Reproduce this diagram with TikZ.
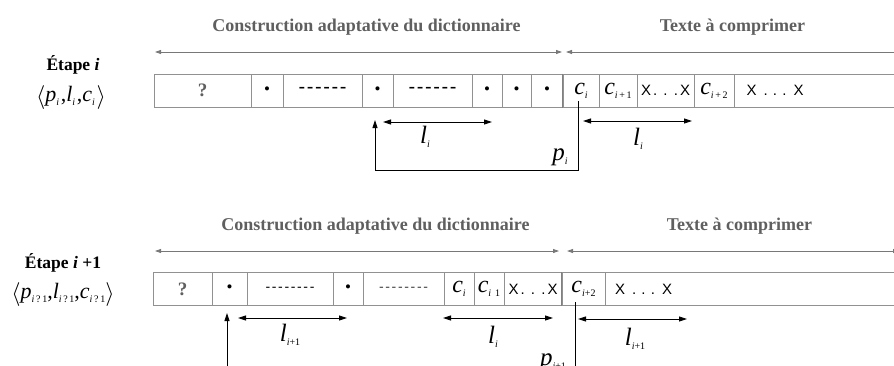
\documentclass[tikz,border=0pt]{standalone}
\usepackage{fontspec}
\setmainfont{Liberation Serif}
\setsansfont{Liberation Sans}
\usetikzlibrary{arrows.meta}
\definecolor{tgray}{RGB}{95,95,95}
\definecolor{agray}{RGB}{120,120,120}
\definecolor{bgray}{RGB}{145,145,145}
\newcommand\vr[2]{\textit{#1}\raisebox{-4pt}{\fontsize{10}{10}\selectfont#2}}
\newcommand\xtight{\makebox[49pt]{X\hspace{2pt}.\hfill.\hfill.\hspace{2pt}X}}
\newcommand\xwide{\makebox[57pt]{X\hspace{7pt}.\hfill.\hfill.\hspace{7pt}X}}
\newcommand\dashesA{\makebox[48pt]{-\hfill-\hfill-\hfill-\hfill-\hfill-}}
\newcommand\dashesB{\makebox[49pt]{-\hfill-\hfill-\hfill-\hfill-\hfill-\hfill-\hfill-}}
\newcommand\tuple[1]{\raisebox{-2pt}{\scalebox{1.15}{$\langle$}}#1\raisebox{-2pt}{\scalebox{1.15}{$\rangle$}}}
\tikzset{
  cell/.style={draw=bgray, line width=1pt, minimum height=33pt, inner sep=0pt, anchor=center},
  title/.style={font=\fontsize{18}{18}\selectfont\bfseries, text=tgray, anchor=base, inner sep=0pt},
  etape/.style={font=\fontsize{17.5}{17.5}\selectfont\bfseries, anchor=base, inner sep=0pt},
  mathlbl/.style={font=\fontsize{25}{25}\selectfont, inner sep=0pt},
  celltxt/.style={font=\fontsize{24}{24}\selectfont},
  qmark/.style={font=\fontsize{19}{19}\selectfont\bfseries, text=tgray},
  bul/.style={font=\fontsize{17}{17}\selectfont},
  xx/.style={font=\fontsize{15}{15}\selectfont\sffamily},
  dA/.style={font=\fontsize{20}{20}\selectfont\sffamily},
  dB/.style={font=\fontsize{14}{14}\selectfont\sffamily},
  garrow/.style={draw=agray, line width=0.8pt, {Triangle[length=6pt,width=4pt]}-{Triangle[length=6pt,width=4pt]}},
  meas/.style={draw=black, line width=0.9pt, {Triangle[length=8pt,width=5pt]}-{Triangle[length=8pt,width=5pt]}},
  conn/.style={draw=black, line width=0.9pt},
}
\begin{document}
\begin{tikzpicture}[x=1pt,y=-1pt]
\useasboundingbox (0,0) rectangle (894,365);
\clip (0,0) rectangle (894,365);
% ---------------- Top ----------------
\node[title] (tC1) at (366.5,31) {Construction adaptative du dictionnaire};
\node[title] (tT1) at (732.5,31) {Texte à comprimer};
\coordinate (dA1) at (155,52); \coordinate (dB1) at (562,52);
\coordinate (xA1) at (566,52); \coordinate (xB1) at (900,52);
\draw[garrow] (dA1) -- (dB1);
\draw[garrow] (xA1) -- (xB1);
\node[etape] (e1) at (73,70) {Étape \textit{i}};
\node[font=\fontsize{22}{22}\selectfont, inner sep=0pt] (tp1) at (71,98) {\tuple{\vr{p}{\textit{i}\,},\vr{l}{\textit{i}\,},\vr{c}{\textit{i}\,}}};
\node[cell, minimum width=97pt, qmark] (t1) at (202.5,90.5) {?};
\node[cell, minimum width=32pt, bul] (t2) at (267,90.5) {\textbullet};
\node[cell, minimum width=79pt, dA] (t3) at (322.5,90.5) {\dashesA};
\node[cell, minimum width=31pt, bul] (t4) at (377.5,90.5) {\textbullet};
\node[cell, minimum width=79pt, dA] (t5) at (432.5,90.5) {\dashesA};
\node[cell, minimum width=30pt, bul] (t6) at (487,90.5) {\textbullet};
\node[cell, minimum width=29pt, bul] (t7) at (516.5,90.5) {\textbullet};
\node[cell, minimum width=32pt, bul] (t8) at (547,90.5) {\textbullet};
\node[cell, minimum width=36pt, celltxt] (t9) at (581,90.5) {\vr{c}{\textit{i}}};
\node[cell, minimum width=38pt, celltxt] (t10) at (618,90.5) {\vr{c}{\textit{i}\,+\,1}};
\node[cell, minimum width=57pt, xx] (t11) at (665.5,90.5) {\xtight};
\node[cell, minimum width=40pt, celltxt] (t12) at (714,90.5) {\vr{c}{\textit{i}\,+\,2}};
\node[cell, minimum width=168pt] (t13) at (818,90.5) {};
\node[xx] (t13x) at (775,90.5) {\xwide};
\draw[draw=gray, line width=1.4pt] (t9.north west) -- (t9.south west);
% measures top
\coordinate (m1a) at (383,122); \coordinate (m1b) at (492,122);
\draw[meas] (m1a) -- (m1b);
\node[mathlbl] (L1) at (425,137) {\vr{l}{\textit{i}}};
\coordinate (pS1) at (578,101); \coordinate (pC1) at (375,170); \coordinate (pE1) at (375,120);
\draw[conn, -{Triangle[length=8pt,width=5pt]}] (pS1) |- (pC1) -- (pE1);
\node[mathlbl] (P1) at (560,157) {\vr{p}{\textit{i}}};
\coordinate (m2a) at (583,121); \coordinate (m2b) at (692,121);
\draw[meas] (m2a) -- (m2b);
\node[mathlbl] (L2) at (638,139) {\vr{l}{\textit{i}}};
% ---------------- Bottom ----------------
\node[title] (tC2) at (375.5,230) {Construction adaptative du dictionnaire};
\node[title] (tT2) at (739.5,230) {Texte à comprimer};
\coordinate (dA2) at (155,251); \coordinate (dB2) at (559,251);
\coordinate (xA2) at (567,251); \coordinate (xB2) at (899,251);
\draw[garrow] (dA2) -- (dB2);
\draw[garrow] (xA2) -- (xB2);
\node[etape] (e2) at (63,268) {Étape \textit{i} +1};
\node[font=\fontsize{22}{22}\selectfont, inner sep=0pt] (tp2) at (63,295) {\tuple{\vr{p}{\textit{i}\,?\,1},\vr{l}{\textit{i}\,?\,1},\vr{c}{\textit{i}\,?\,1}}};
\node[cell, minimum width=59pt, qmark] (b1) at (182.5,289) {?};
\node[cell, minimum width=35pt, bul] (b2) at (229.5,289) {\textbullet};
\node[cell, minimum width=86pt, dB] (b3) at (290,289) {\dashesB};
\node[cell, minimum width=30pt, bul] (b4) at (348,289) {\textbullet};
\node[cell, minimum width=81pt, dB, text=darkgray] (b5) at (403.5,289) {\dashesB};
\node[cell, minimum width=30pt, celltxt] (b6) at (459,289) {\vr{c}{\textit{i}}};
\node[cell, minimum width=30pt, celltxt] (b7) at (489,289) {\vr{c}{\textit{i}\hspace{4pt}1}};
\node[cell, minimum width=58pt, xx] (b8) at (533,289) {\xtight};
\node[cell, minimum width=43pt, celltxt] (b9) at (583.5,289) {\vr{c}{\textit{i}+2}};
\node[cell, minimum width=295pt] (b10) at (752.5,289) {};
\node[xx] (b10x) at (643.5,289) {\xwide};
\draw[draw=gray, line width=1.4pt] (b9.north west) -- (b9.south west);
% measures bottom
\coordinate (uS) at (227,370); \coordinate (uE) at (227,313);
\draw[conn, -{Triangle[length=8pt,width=5pt]}] (uS) -- (uE);
\coordinate (m3a) at (238,318); \coordinate (m3b) at (347,318);
\draw[meas] (m3a) -- (m3b);
\node[mathlbl] (L3) at (290,335) {\vr{l}{\textit{i}+1}};
\coordinate (m4a) at (443,318); \coordinate (m4b) at (553,318);
\draw[meas] (m4a) -- (m4b);
\node[mathlbl] (L4) at (493,337) {\vr{l}{\textit{i}}};
\coordinate (vS) at (575,302); \coordinate (vE) at (575,370);
\draw[conn] (vS) -- (vE);
\node[mathlbl] (P2) at (553,362) {\vr{p}{\textit{i}+1}};
\coordinate (m5a) at (578,319); \coordinate (m5b) at (687,319);
\draw[meas] (m5a) -- (m5b);
\node[mathlbl] (L5) at (635,339) {\vr{l}{\textit{i}+1}};
\end{tikzpicture}
\end{document}
